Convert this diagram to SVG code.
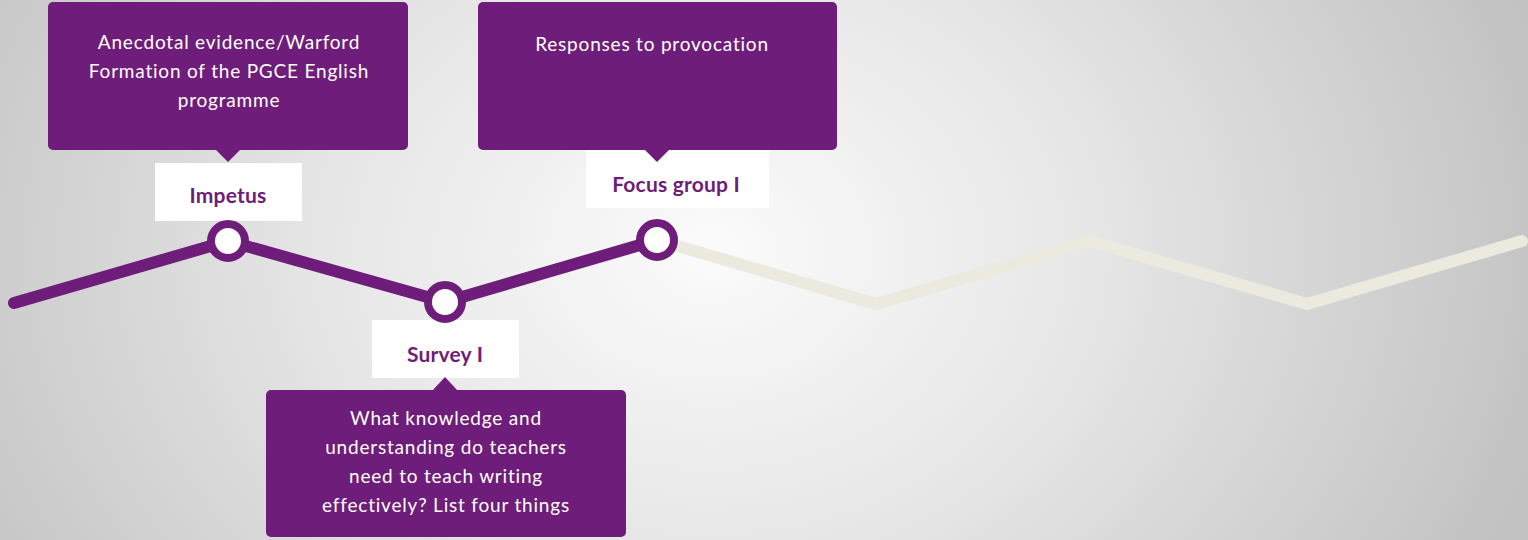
<svg xmlns="http://www.w3.org/2000/svg" width="1528" height="540" viewBox="0 0 1528 540">
  <defs>
    <radialGradient id="bg" gradientUnits="userSpaceOnUse" cx="710" cy="250" r="860" gradientTransform="translate(710 250) scale(1 0.8) translate(-710 -250)">
      <stop offset="0" stop-color="#fbfbfb"/>
      <stop offset="0.45" stop-color="#e6e6e6"/>
      <stop offset="1" stop-color="#c2c2c2"/>
    </radialGradient>
    <style>
      .callout { fill: #6f1d7b; }
      .tag { fill: #ffffff; }
      .body { font-family: Lato, "Open Sans", sans-serif; font-size: 19px; fill: #ffffff; text-anchor: middle; letter-spacing: 0.8px; }
      .label { font-family: Lato, "Open Sans", sans-serif; font-size: 21px; font-weight: bold; fill: #6f1d7b; text-anchor: middle; letter-spacing: 0.2px; }
      .ring { fill: #ffffff; stroke: #6f1d7b; stroke-width: 8; }
      .done { fill: none; stroke: #6f1d7b; stroke-width: 12; stroke-linecap: round; stroke-linejoin: round; }
      .todo { fill: none; stroke: #ece9df; stroke-width: 12; stroke-linecap: round; stroke-linejoin: round; }
    </style>
  </defs>

  <rect width="1528" height="540" fill="url(#bg)"/>

  <!-- timeline zig-zag -->
  <g id="connectors">
    <polyline class="todo" points="657,240 876,304 1090,241 1307,304 1522,241"/>
    <polyline class="done" points="14,303 228,241 445,302 657,240"/>
  </g>

  <!-- stage: Impetus -->
  <g id="impetus">
    <rect class="callout" x="48" y="2" width="360" height="148" rx="5"/>
    <polygon class="callout" points="215,149 241,149 228,162"/>
    <rect class="tag" x="155" y="163" width="147" height="58"/>
    <text class="label" x="228" y="203">Impetus</text>
    <text class="body" x="229" y="49">Anecdotal evidence/Warford</text>
    <text class="body" x="229" y="78">Formation of the PGCE English</text>
    <text class="body" x="229" y="107">programme</text>
    <circle class="ring" cx="228" cy="241" r="17"/>
  </g>

  <!-- stage: Survey I -->
  <g id="survey1">
    <rect class="tag" x="372" y="320" width="147" height="58"/>
    <rect class="callout" x="266" y="390" width="360" height="147" rx="5"/>
    <polygon class="callout" points="432,391 458,391 445,377"/>
    <text class="label" x="445" y="362">Survey I</text>
    <text class="body" x="446" y="425">What knowledge and</text>
    <text class="body" x="446" y="454">understanding do teachers</text>
    <text class="body" x="446" y="483">need to teach writing</text>
    <text class="body" x="446" y="512">effectively? List four things</text>
    <circle class="ring" cx="445" cy="302" r="17"/>
  </g>

  <!-- stage: Focus group I -->
  <g id="focus1">
    <rect class="tag" x="586" y="150" width="183" height="58"/>
    <rect class="callout" x="478" y="2" width="359" height="148" rx="5"/>
    <polygon class="callout" points="644,149 670,149 657,162"/>
    <text class="label" x="676" y="192">Focus group I</text>
    <text class="body" x="652" y="51">Responses to provocation</text>
    <circle class="ring" cx="657" cy="240" r="17"/>
  </g>
</svg>
